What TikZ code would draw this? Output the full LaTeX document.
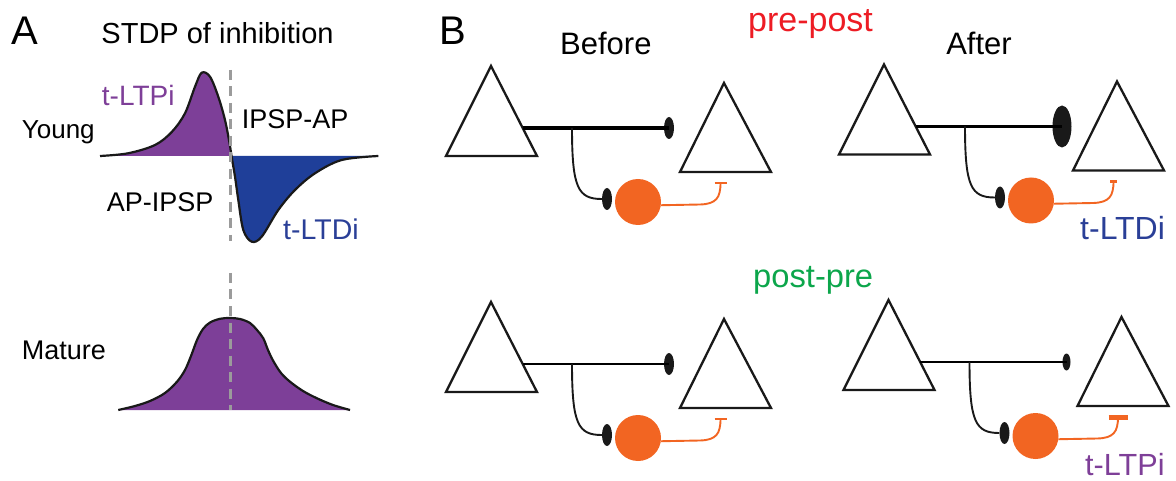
\documentclass[tikz,border=0pt]{standalone}
\usepackage{fontspec}
\setmainfont{Liberation Sans}
\usetikzlibrary{shapes.geometric}
\definecolor{lpurple}{HTML}{7D3F98}
\definecolor{lblue}{HTML}{1F3F99}
\definecolor{lorange}{HTML}{F26522}
\definecolor{lred}{HTML}{ED1C24}
\definecolor{lgreen}{HTML}{0CA64B}
\definecolor{lgray}{HTML}{9B9B9B}
\definecolor{tblue}{HTML}{2A3F97}
\definecolor{tpurple}{HTML}{7E3F98}
\newcommand\fsz[1]{\fontsize{#1}{#1}\selectfont}
% #1 name, #2 shift x, #3 shift y, #4 axon width, #5 term w, #6 term h, #7 bar half width, #8 bar thickness
\newcommand\circuitcell[8]{%
\begin{scope}[shift={(#2,#3)}]
  \draw[tri] (491,66) -- (537,156) -- (446,156) -- cycle;
  \draw[tri] (724,83) -- (771,172) -- (680,172) -- cycle;
  \coordinate (#1-ax) at (522.7,128);
  \coordinate (#1-br) at (572,128);
  \node[term, minimum width=#5, minimum height=#6] (#1-term) at (669,128) {};
  \node[term, minimum width=10, minimum height=22] (#1-syn) at (607,199) {};
  \node[inter] (#1-int) at (638,202) {};
  \coordinate (#1-tip) at (720.5,183);
  \draw[line width=#4] (#1-ax) -- (#1-term.center);
  \draw[branch] (#1-br) .. controls (572,188) and (578,199) .. (#1-syn.west);
  \draw[oaxon] (#1-int.-8) -- (700,204.5) .. controls (716,204) and (720.5,198) .. (#1-tip);
  \draw[lorange, line width=#8] ([xshift=-#7]#1-tip) -- ([xshift=#7]#1-tip);
\end{scope}}
\begin{document}
\begin{tikzpicture}[x=1pt,y=-1pt,
  lbl/.style={inner sep=0pt, anchor=base west},
  tri/.style={draw=black!90, line width=2.3pt, line join=miter, fill=white},
  term/.style={shape=ellipse, fill=black!90, inner sep=0pt},
  inter/.style={shape=circle, fill=lorange, inner sep=0pt, minimum size=46pt},
  branch/.style={draw=black!90, line width=1.9pt},
  oaxon/.style={draw=lorange, line width=1.9pt},
  curve/.style={draw=black!90, line width=2.2pt},
  vdash/.style={draw=lgray, line width=3pt, dash pattern=on 10pt off 6.5pt}]
\useasboundingbox (0,0) rectangle (1176,481);

% ---------- Panel A ----------
\node[lbl] (labA) at (11.7,45) {\fsz{40}A};
\node[inner sep=0pt, anchor=base] (title) at (217.5,43.3) {\fsz{29}STDP of inhibition};

% young curve
\fill[lpurple] plot[smooth, tension=0.55] coordinates {(100,156) (128,153.3) (155,145) (172,131.7) (185,113.3) (195,86.7) (201.7,72.7) (210,76.7) (218.3,96.7) (225,120) (229.5,143) (231.5,156)} -- cycle;
\fill[lblue] plot[smooth, tension=0.55] coordinates {(231.5,156) (235,176.7) (238.3,200) (243.3,230) (251.7,241.7) (261.7,236.7) (278.3,210) (295,190) (315,173.3) (341.7,160) (378.3,156)} -- cycle;
\draw[curve] plot[smooth, tension=0.55] coordinates {(100,156) (128,153.3) (155,145) (172,131.7) (185,113.3) (195,86.7) (201.7,72.7) (210,76.7) (218.3,96.7) (225,120) (229.5,143) (231.5,156)};
\draw[curve] plot[smooth, tension=0.55] coordinates {(231.5,156) (235,176.7) (238.3,200) (243.3,230) (251.7,241.7) (261.7,236.7) (278.3,210) (295,190) (315,173.3) (341.7,160) (378.3,156)};
\draw[vdash] (230.5,70) -- (230.5,241);

% mature curve
\fill[lpurple] plot[smooth, tension=0.55] coordinates {(118.3,410) (135,406) (150,401) (165,393) (177,381.7) (185,370) (191,356) (197,340) (203,329) (210,322.5) (220,318.8) (230,318) (240,319) (250,323) (257,330) (263.3,338.3) (268,350) (273.3,361) (281,373) (290,381.7) (303,391) (317,398.3) (333,405) (350,410)} -- cycle;
\draw[curve] plot[smooth, tension=0.55] coordinates {(118.3,410) (135,406) (150,401) (165,393) (177,381.7) (185,370) (191,356) (197,340) (203,329) (210,322.5) (220,318.8) (230,318) (240,319) (250,323) (257,330) (263.3,338.3) (268,350) (273.3,361) (281,373) (290,381.7) (303,391) (317,398.3) (333,405) (350,410)};
\draw[vdash] (230.5,273) -- (230.5,410);

\node[lbl, text=tpurple] (ltpA) at (101.7,106) {\fsz{28}t-LTPi};
\node[lbl] (young) at (21.7,138.3) {\fsz{26}Young};
\node[lbl] (ipspap) at (241.7,128.3) {\fsz{27}IPSP-AP};
\node[lbl] (apipsp) at (106.7,211.7) {\fsz{27}AP-IPSP};
\node[lbl, text=tblue] (ltdA) at (283,240) {\fsz{28.5}t-LTDi};
\node[lbl] (mature) at (21.7,359.3) {\fsz{27}Mature};

% ---------- Panel B ----------
\node[lbl] (labB) at (439,45) {\fsz{40}B};
\node[lbl] (before) at (560,55) {\fsz{31}Before};
\node[inner sep=0pt, anchor=base] (after) at (979,55) {\fsz{31}After};
\node[lbl, text=lred] (prepost) at (748,31.7) {\fsz{34}pre-post};
\node[lbl, text=lgreen] (postpre) at (753,287.7) {\fsz{32.7}post-pre};

\circuitcell{tb}{0}{0}{3.3pt}{10}{22}{6pt}{2.5pt}
\circuitcell{ta}{393}{-1.5}{2.2pt}{19}{42}{3.5pt}{3pt}
\circuitcell{bb}{0}{236}{2.2pt}{10}{22}{6pt}{2.5pt}
\circuitcell{ba}{397.5}{234}{2.2pt}{8}{17}{9.5pt}{5pt}

\node[lbl, text=tblue] (ltdB) at (1080,239.3) {\fsz{32}t-LTDi};
\node[lbl, text=tpurple] (ltpB) at (1085,475) {\fsz{30.6}t-LTPi};
\end{tikzpicture}
\end{document}
